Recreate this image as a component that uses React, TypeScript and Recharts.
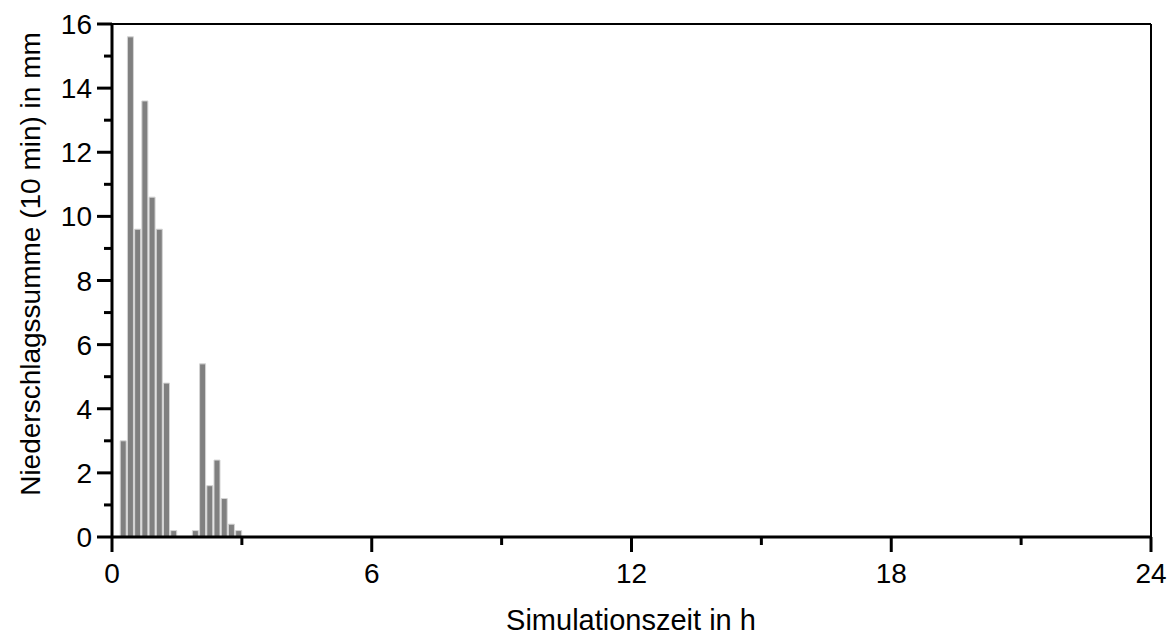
import { ComposedChart, Bar, XAxis, YAxis, ReferenceLine, Label } from 'recharts';

// Niederschlag je 10-min-Intervall, Balkenmitte in Minuten
const minutes = [15, 25, 35, 45, 55, 65, 75, 85, 95, 105, 115, 125, 135, 145, 155, 165, 175];
const rain = [3.0, 15.6, 9.6, 13.6, 10.6, 9.6, 4.8, 0.2, 0, 0, 0.2, 5.4, 1.6, 2.4, 1.2, 0.4, 0.2];

const xTicks = [0, 3, 6, 9, 12, 15, 18, 21, 24];
const yTicks = [0, 1, 2, 3, 4, 5, 6, 7, 8, 9, 10, 11, 12, 13, 14, 15, 16];

const FONT = '"Liberation Sans", Arial, sans-serif';
const FS = 28;

const data = minutes.map((m, i) => ({ t: m / 60, rain: rain[i] }));

function XTick(props: any) {
  const { x, y, payload } = props;
  const major = payload.value % 6 === 0;
  return (
    <g>
      <line x1={x} y1={y} x2={x} y2={y + (major ? 15 : 8)} stroke="#000" strokeWidth={3} />
      {major && (
        <text x={x} y={y + 46} textAnchor="middle" fontSize={FS} fontFamily={FONT} fill="#000">
          {payload.value}
        </text>
      )}
    </g>
  );
}

function YTick(props: any) {
  const { x, y, payload } = props;
  const major = payload.value % 2 === 0;
  return (
    <g>
      <line x1={x} y1={y} x2={x - (major ? 15 : 8)} y2={y} stroke="#000" strokeWidth={3} />
      {major && (
        <text x={x - 20} y={y} dy="0.36em" textAnchor="end" fontSize={FS} fontFamily={FONT} fill="#000">
          {payload.value}
        </text>
      )}
    </g>
  );
}

export default function App() {
  return (
    <div style={{ position: 'absolute', left: 0, top: 0, background: '#fff' }}>
      <ComposedChart width={1173} height={639} data={data} margin={{ top: 24, right: 22, bottom: 0, left: 0 }}>
        <XAxis
          dataKey="t"
          type="number"
          domain={[0, 24]}
          ticks={xTicks}
          interval={0}
          height={102}
          tickSize={0}
          tickMargin={0}
          tickLine={false}
          tick={<XTick />}
          axisLine={{ stroke: '#000', strokeWidth: 3 }}
        >
          <Label
            content={() => (
              <text x={631} y={630} textAnchor="middle" fontSize={29} fontFamily={FONT} fill="#000">
                Simulationszeit in h
              </text>
            )}
          />
        </XAxis>
        <YAxis
          type="number"
          domain={[0, 16]}
          ticks={yTicks}
          interval={0}
          width={112}
          tickSize={0}
          tickMargin={0}
          tickLine={false}
          tick={<YTick />}
          axisLine={{ stroke: '#000', strokeWidth: 3 }}
        >
          <Label
            content={() => (
              <text
                x={40}
                y={264}
                transform="rotate(-90 40 264)"
                textAnchor="middle"
                fontSize={FS}
                fontFamily={FONT}
                fill="#000"
              >
                Niederschlagssumme (10 min) in mm
              </text>
            )}
          />
        </YAxis>
        <ReferenceLine y={16} stroke="#000" strokeWidth={2} />
        <ReferenceLine x={24} stroke="#000" strokeWidth={2} />
        <Bar dataKey="rain" fill="#808080" stroke="#d4d4d4" strokeWidth={1} barSize={6} isAnimationActive={false} />
      </ComposedChart>
    </div>
  );
}
